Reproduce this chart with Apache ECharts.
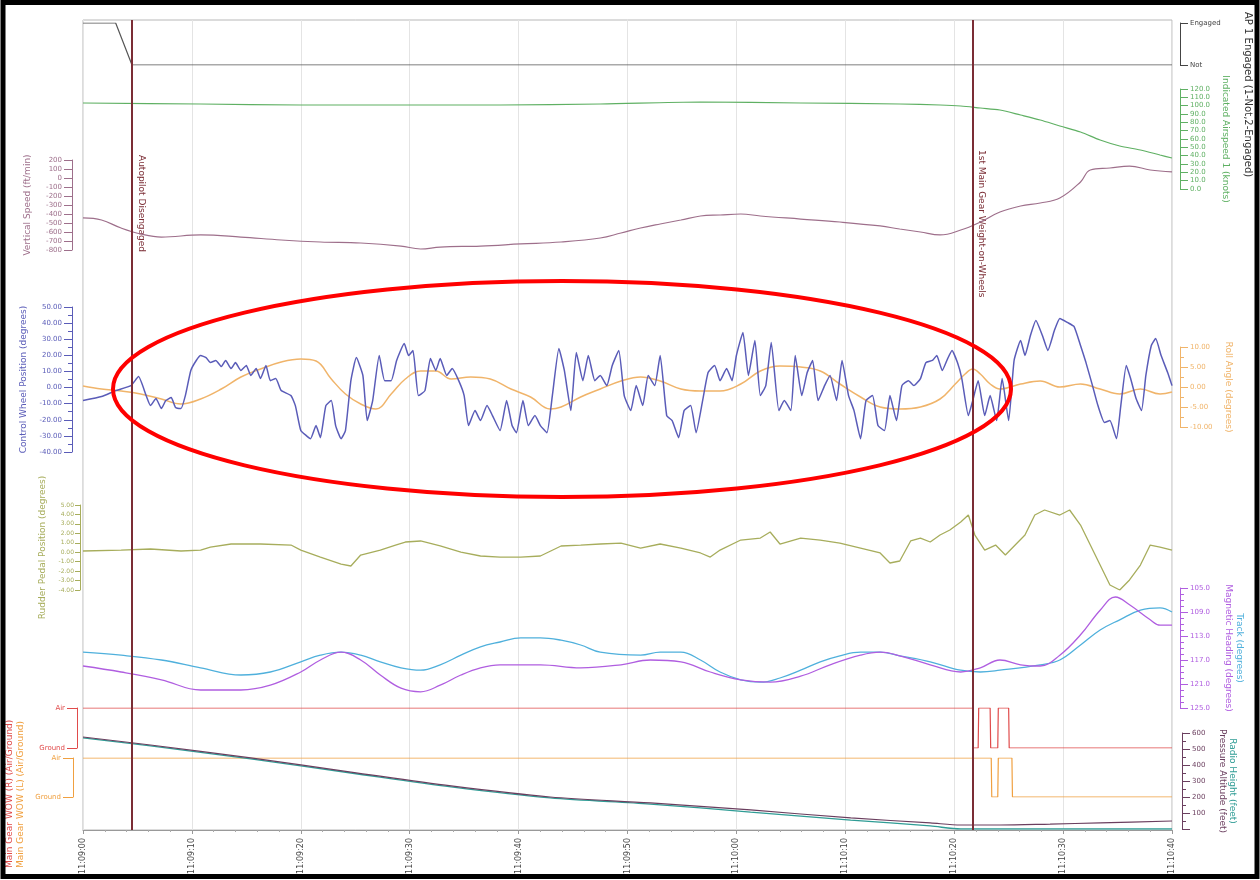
<!DOCTYPE html>
<html><head><meta charset="utf-8">
<script src="https://cdn.jsdelivr.net/npm/echarts@6/dist/echarts.min.js"></script>
<style>html,body{margin:0;padding:0;background:#fff}#c{width:1260px;height:880px}</style>
</head><body><div id="c"></div>
<script>
// ---- tick labels ----
const timeLabels = ['11:09:00','11:09:10','11:09:20','11:09:30','11:09:40','11:09:50','11:10:00','11:10:10','11:10:20','11:10:30','11:10:40'];
const headingTicks = [105, 109, 113, 117, 121, 125];
const headingMinorTicks = [106,107,108,110,111,112,114,115,116,118,119,120,122,123,124];
const markerTimes = [4.5, 81.7];
const markerNames = ['Autopilot Disengaged', '1st Main Gear Weight-on-Wheels'];

// ---- series values [time s, value] ----
const apEngaged = [[0,2],[3.0,2],[4.5,1],[100,1]];
const iasData = [[0,103.2],[10.8,102.0],[20.0,100.8],[29.2,100.8],[38.3,100.8],[47.5,102.0],[56.7,104.4],[65.9,103.2],[75.0,102.0],[78.7,100.8],[80.6,99.6],[82.4,97.2],[84.2,94.8],[86.1,88.8],[87.9,82.8],[89.7,75.6],[91.6,68.4],[93.4,58.8],[95.2,51.6],[97.1,46.8],[98.9,40.8],[100,37.2]];
const vsData = [[0,-444],[1.7,-467],[3.5,-556],[5.3,-622],[7.2,-656],[10.8,-633],[14.5,-656],[18.2,-689],[21.8,-711],[25.5,-722],[29.2,-756],[31.0,-789],[32.8,-767],[36.5,-756],[40.2,-733],[43.9,-711],[47.5,-667],[49.4,-611],[51.2,-556],[53.0,-511],[54.9,-467],[56.7,-422],[58.5,-411],[60.4,-400],[62.2,-422],[65.9,-456],[69.5,-489],[73.2,-533],[75.0,-567],[76.9,-600],[78.7,-633],[80.6,-578],[82.4,-489],[84.2,-378],[86.1,-311],[87.9,-278],[89.7,-222],[91.6,-44],[92.5,89],[94.3,111],[96.1,133],[98.0,89],[100,67]];
const cwpData = [[0,-8.1],[1.7,-5.6],[3.0,-1.9],[4.4,1.2],[5.1,6.8],[5.8,-5.0],[6.2,-11.2],[6.7,-6.8],[7.2,-13.0],[7.6,-8.1],[8.1,-6.2],[8.5,-12.4],[9.0,-13.0],[9.4,-5.0],[9.9,10.6],[10.4,16.8],[10.8,19.9],[11.3,18.6],[11.7,15.5],[12.2,16.8],[12.7,13.0],[13.1,16.8],[13.6,11.8],[14.0,15.5],[14.5,10.6],[15.0,13.7],[15.4,7.5],[15.9,11.8],[16.3,5.6],[16.8,13.7],[17.2,4.3],[17.7,5.6],[18.2,-1.9],[19.1,-5.0],[19.5,-11.2],[20.0,-26.7],[20.5,-29.8],[20.9,-31.7],[21.4,-23.6],[21.8,-31.1],[22.3,-11.2],[22.8,-8.1],[23.2,-23.6],[23.7,-31.7],[24.1,-26.7],[24.6,4.3],[25.1,18.6],[25.7,7.5],[26.1,-20.5],[26.6,-8.1],[27.2,19.9],[27.7,4.3],[28.3,4.3],[28.8,16.8],[29.5,27.3],[29.9,19.9],[30.3,23.0],[30.8,-5.0],[31.4,-1.9],[31.9,18.0],[32.4,10.6],[32.8,18.0],[33.4,7.5],[33.9,11.8],[34.5,4.3],[35.0,-5.0],[35.4,-23.6],[36.0,-14.3],[36.5,-20.5],[37.1,-11.2],[37.6,-17.4],[38.3,-26.7],[38.9,-8.1],[39.4,-23.6],[39.8,-28.0],[40.4,-8.1],[40.9,-23.6],[41.5,-17.4],[42.0,-23.6],[42.6,-28.0],[43.1,-5.0],[43.7,24.2],[44.2,10.6],[44.8,-14.3],[45.3,21.7],[45.9,4.3],[46.4,19.9],[47.0,4.3],[47.5,7.5],[48.1,1.2],[48.6,13.7],[49.2,23.0],[49.7,-5.0],[50.3,-14.3],[50.8,1.2],[51.4,-11.2],[51.9,7.5],[52.5,1.2],[53.0,19.9],[53.6,-17.4],[54.1,-20.5],[54.7,-31.1],[55.2,-14.3],[55.8,-11.2],[56.3,-28.0],[56.9,-8.1],[57.4,9.3],[58.0,13.7],[58.5,4.3],[59.1,11.8],[59.6,4.3],[60.0,19.9],[60.6,34.2],[61.1,7.5],[61.7,29.2],[62.2,-5.0],[62.7,1.2],[63.2,28.0],[63.9,-14.3],[64.4,-8.1],[65.0,-14.3],[65.4,19.9],[66.0,-5.0],[66.5,9.3],[67.0,16.8],[67.5,-8.1],[68.1,1.2],[68.6,7.5],[69.2,-8.1],[69.7,16.8],[70.3,-5.0],[70.8,-14.3],[71.4,-31.7],[71.9,-8.1],[72.5,-5.0],[73.0,-23.6],[73.6,-26.7],[74.1,-5.0],[74.7,-20.5],[75.2,1.2],[75.8,4.3],[76.3,1.2],[76.9,5.6],[77.4,15.5],[78.0,16.8],[78.4,19.9],[78.9,10.6],[79.4,18.0],[79.8,23.0],[80.3,15.5],[80.7,5.6],[81.3,-17.4],[81.7,-8.1],[82.2,4.3],[82.8,-17.4],[83.3,-5.0],[83.9,-20.5],[84.4,5.6],[85.0,-20.5],[85.5,16.8],[86.1,29.2],[86.5,19.9],[87.0,32.3],[87.5,41.6],[88.1,32.3],[88.6,23.0],[89.2,35.4],[89.7,42.9],[90.4,40.4],[91.0,37.9],[91.6,26.1],[92.1,15.5],[92.7,1.2],[93.2,-11.2],[93.8,-21.7],[94.3,-20.5],[94.9,-31.7],[95.3,-11.2],[95.8,13.7],[96.2,5.6],[96.7,-6.8],[97.2,-14.3],[97.6,7.5],[98.1,26.1],[98.5,30.4],[99.0,19.9],[99.6,9.3],[100,1.2]];
const rollData = [[0,0.25],[1.7,-0.5],[3.5,-1.0],[5.3,-1.75],[7.2,-3.0],[9.0,-4.25],[10.8,-3.0],[12.7,-0.5],[14.5,2.5],[16.3,4.5],[18.2,6.25],[20.0,7.0],[21.4,6.5],[22.8,2.0],[24.1,-1.75],[25.5,-4.25],[26.9,-5.5],[28.3,-1.75],[29.6,2.0],[31.0,4.0],[32.4,4.0],[33.8,2.0],[35.6,2.5],[37.4,2.0],[39.3,-0.5],[41.1,-2.5],[42.9,-5.5],[43.9,-5.0],[45.7,-2.5],[47.5,-0.5],[49.4,1.5],[51.2,2.5],[53.0,1.5],[54.9,-0.5],[56.7,-1.0],[58.5,-1.0],[60.4,0.75],[62.2,4.0],[64.0,5.25],[65.9,5.0],[67.7,4.0],[69.5,0.75],[71.4,-2.5],[73.2,-5.0],[75.0,-5.5],[76.9,-5.0],[78.7,-3.0],[80.1,0.75],[81.0,3.25],[81.7,4.5],[82.4,3.25],[83.3,0.75],[84.2,-0.5],[86.1,0.75],[87.9,1.5],[89.7,0],[91.6,0.75],[93.4,-0.5],[95.2,-1.75],[97.1,-0.5],[98.9,-1.75],[100,-1.25]];
const rudderData = [[0,0.13],[3.5,0.23],[6.2,0.34],[9.0,0.13],[10.8,0.23],[11.7,0.55],[13.6,0.87],[16.3,0.87],[19.1,0.76],[20.0,0.23],[21.8,-0.51],[23.7,-1.25],[24.6,-1.46],[25.5,-0.30],[27.3,0.23],[28.7,0.76],[29.6,1.08],[31.0,1.19],[32.8,0.66],[34.7,0.02],[36.5,-0.40],[38.3,-0.51],[40.2,-0.51],[42.0,-0.40],[43.9,0.66],[45.7,0.76],[47.5,0.87],[49.4,0.97],[51.2,0.44],[53.0,0.87],[54.9,0.44],[56.7,-0.08],[57.6,-0.51],[58.5,0.23],[60.4,1.29],[62.2,1.50],[63.1,2.14],[64.0,0.87],[65.9,1.50],[67.7,1.29],[69.5,0.97],[71.4,0.44],[73.2,-0.08],[74.1,-1.14],[75.0,-0.93],[76.0,1.19],[76.9,1.50],[77.8,1.08],[78.7,1.82],[79.6,2.35],[80.6,3.20],[81.3,3.94],[81.9,1.82],[82.8,0.23],[83.8,0.76],[84.7,-0.30],[85.6,0.76],[86.5,1.82],[87.4,3.94],[88.3,4.47],[89.7,3.94],[90.6,4.47],[91.6,2.88],[92.5,0.76],[93.4,-1.36],[94.3,-3.47],[95.2,-4.0],[96.1,-2.94],[97.1,-1.36],[98.0,0.76],[98.9,0.55],[100,0.23]];
const headingData = [[0,118.0],[3.5,119.0],[7.2,120.3],[10.8,122.0],[14.5,122.0],[17.2,121.2],[20.0,119.0],[21.8,117.0],[23.7,115.7],[25.5,117.0],[27.3,119.5],[29.2,121.7],[31.0,122.3],[32.8,121.2],[34.7,119.5],[36.5,118.3],[38.3,117.8],[42.0,117.8],[45.7,118.3],[49.4,117.8],[52.1,117.0],[54.9,117.3],[57.6,119.0],[60.4,120.3],[63.1,120.7],[65.9,119.7],[68.6,117.8],[71.4,116.2],[73.2,115.7],[75.0,116.3],[77.8,117.8],[80.6,119.0],[82.4,118.3],[84.2,117.0],[86.1,117.8],[87.9,118.0],[89.7,116.2],[91.6,112.8],[93.4,108.7],[94.8,106.5],[96.1,107.8],[98.0,110.3],[98.9,111.2],[100,111.2]];
const trackData = [[0,115.7],[3.5,116.2],[7.2,117.0],[10.8,118.3],[14.5,119.5],[17.2,119.0],[20.0,117.3],[21.8,116.2],[23.7,115.7],[25.5,116.2],[27.3,117.3],[29.2,118.3],[31.0,118.7],[32.8,117.8],[34.7,116.2],[36.5,114.8],[38.3,114.0],[40.2,113.3],[42.0,113.3],[43.9,113.7],[45.7,114.5],[47.5,115.7],[51.2,116.2],[53.0,115.7],[54.9,115.7],[56.7,117.0],[58.5,119.0],[60.4,120.3],[62.2,120.7],[64.0,120.0],[65.9,118.7],[67.7,117.3],[69.5,116.3],[71.4,115.7],[73.2,115.7],[75.0,116.3],[77.8,117.3],[80.6,118.7],[82.4,119.0],[84.2,118.7],[87.9,117.8],[89.7,117.0],[91.6,114.5],[93.4,112.0],[95.2,110.3],[97.1,108.7],[98.9,108.3],[100,109.0]];
const wowRight = [[0,1],[81.7,1],[81.75,0],[82.2,0],[82.25,1],[83.3,1],[83.35,0],[84.0,0],[84.05,1],[85.0,1],[85.05,0],[100,0]];
const wowLeft = [[0,1],[83.4,1],[83.45,0],[84.0,0],[84.05,1],[85.3,1],[85.35,0],[100,0]];
const pressAlt = [[0,575],[6.2,525],[15.4,444],[24.6,356],[33.8,269],[42.9,200],[52.1,163],[61.3,119],[70.5,69],[77.8,38],[80.6,25],[84.2,25],[88.8,31],[93.4,38],[100,50]];
const radioHeight = [[0,569],[6.2,519],[15.4,438],[24.6,350],[33.8,263],[42.9,194],[52.1,156],[61.3,106],[70.5,56],[77.8,19],[80.6,0],[84.2,0],[100,0]];

const FONT = 'DejaVu Sans';
const chart = echarts.init(document.getElementById('c'));

const L = 83, R = 88;
const panels = [
  {top:20, height:810},  // 0 base
  {top:23, height:42},   // 1 AP
  {top:89, height:100},  // 2 IAS
  {top:160, height:90},  // 3 VS
  {top:307, height:145}, // 4 CWP
  {top:347, height:80},  // 5 roll
  {top:505, height:85},  // 6 rudder
  {top:588, height:120}, // 7 heading/track
  {top:708, height:40},  // 8 WOW R
  {top:758, height:39},  // 9 WOW L
  {top:733, height:96}   // 10 alt
];
const grids = panels.map((p,i) => Object.assign({left:L, right:R, containLabel:false, outerBoundsMode:'none'}, p,
  i===0 ? {show:true, borderColor:'#b8b8b8', borderWidth:1} : {}));
const xAxes = panels.map((p,i) => i===0 ? {
  gridIndex:0, type:'value', min:0, max:100, interval:10,
  axisLine:{show:true, lineStyle:{color:'#999'}},
  axisTick:{show:true, length:4, lineStyle:{color:'#999'}},
  minorTick:{show:true, splitNumber:5, length:2, lineStyle:{color:'#aaa'}},
  splitLine:{show:true, lineStyle:{color:'#e4e4e4', width:1}},
  axisLabel:{rotate:90, fontSize:8, color:'#444', fontFamily:FONT, margin:8,
    formatter:v => { const k = Math.round(v/10); return Math.abs(v - k*10) < 1e-6 ? (timeLabels[k] || '') : ''; }},
  name:'UTC Time (hh:mm:ss)', nameLocation:'middle', nameGap:43,
  nameTextStyle:{fontSize:7, color:'#555', fontFamily:FONT}
} : {gridIndex:i, type:'value', min:0, max:100, show:false});

function yAx(o, color, side, extra) {
  const base = {
    type:'value', position:side, offset: side==='left' ? 11 : 8,
    axisLine:{show:true, onZero:false, lineStyle:{color:color, width:1}},
    axisTick:{show:true, length:8, lineStyle:{color:color}},
    minorTick:{show:true, splitNumber:2, length:4, lineStyle:{color:color}},
    splitLine:{show:false},
    axisLabel:{color:color, fontSize:7, margin:10, fontFamily:FONT},
    nameLocation:'middle', nameRotate: side==='left' ? 90 : -90,
    nameTextStyle:{color:color, fontSize:9, fontFamily:FONT}
  };
  const r = Object.assign(base, o);
  if (extra) Object.keys(extra).forEach(k => r[k] = Object.assign({}, r[k], extra[k]));
  return r;
}
function nameOnly(o, color, side) {
  return Object.assign({type:'value', position:side, offset:8,
    axisLine:{show:false, onZero:false}, axisTick:{show:false}, axisLabel:{show:false}, splitLine:{show:false},
    nameLocation:'middle', nameRotate: side==='left' ? 90 : -90,
    nameTextStyle:{color:color, fontSize:9, fontFamily:FONT}}, o);
}
const C = {ap:'#555555', ias:'#5fb063', vs:'#9e6f8b', cwp:'#5a5cb8', roll:'#f0b46a', rud:'#a7ad5c',
  hdg:'#b05ee0', trk:'#4fb0dc', wowR:'#e04b4b', wowL:'#f0a040', pa:'#6b3f5f', rh:'#2f9c95', mk:'#7b2d35'};

const yAxes = [
  {gridIndex:0, type:'value', min:0, max:1, show:false},
  yAx({gridIndex:1, min:1, max:2, interval:1,
       axisLabel:{color:'#444', fontSize:7, margin:10, fontFamily:FONT, formatter:v => v===2 ? 'Engaged' : (v===1 ? 'Not' : '')}}, C.ap, 'right',
       {minorTick:{show:false}, axisLine:{lineStyle:{color:'#444'}}, axisTick:{lineStyle:{color:'#444'}}}),
  yAx({gridIndex:2, min:0, max:120, interval:10, name:'Indicated Airspeed 1 (knots)', nameGap:40,
       axisLabel:{color:C.ias, fontSize:7, margin:10, fontFamily:FONT, formatter:v => v.toFixed(1)}}, C.ias, 'right', {minorTick:{show:false}}),
  yAx({gridIndex:3, min:-800, max:200, interval:100, name:'Vertical Speed (ft/min)', nameGap:40,
       axisLabel:{color:C.vs, fontSize:7, margin:10, fontFamily:FONT}}, C.vs, 'left', {minorTick:{show:false}}),
  yAx({gridIndex:4, min:-40, max:50, interval:10, name:'Control Wheel Position (degrees)', nameGap:40,
       axisLabel:{color:C.cwp, fontSize:7, margin:10, fontFamily:FONT, formatter:v => v.toFixed(2)}}, C.cwp, 'left'),
  yAx({gridIndex:5, min:-10, max:10, interval:5, name:'Roll Angle (degrees)', nameGap:44,
       axisLabel:{color:C.roll, fontSize:7, margin:10, fontFamily:FONT, formatter:v => v.toFixed(2)}}, C.roll, 'right'),
  yAx({gridIndex:6, min:-4, max:5, interval:1, offset:3, name:'Rudder Pedal Position (degrees)', nameGap:30,
       axisLabel:{color:C.rud, fontSize:6, margin:6, fontFamily:FONT, formatter:v => v.toFixed(2)}}, C.rud, 'left', {axisTick:{length:5}, minorTick:{show:false}}),
  yAx({gridIndex:7, min:105, max:125, inverse:true, name:'Magnetic Heading (degrees)', nameGap:44,
       axisTick:{show:true, length:8, customValues:headingTicks, lineStyle:{color:C.hdg}},
       minorTick:{show:false},
       axisLabel:{color:C.hdg, fontSize:7, margin:10, fontFamily:FONT, customValues:headingTicks, formatter:v => v.toFixed(1)}}, C.hdg, 'right'),
  nameOnly({gridIndex:7, min:105, max:125, inverse:true, name:'Track (degrees)', nameGap:55}, C.trk, 'right'),
  yAx({gridIndex:8, min:0, max:1, interval:1, offset:6, name:'',
       axisLabel:{color:C.wowR, fontSize:7, margin:12, fontFamily:FONT, formatter:v => v===1 ? 'Air' : 'Ground'}}, C.wowR, 'left', {minorTick:{show:false}, axisTick:{length:10}}),
  yAx({gridIndex:9, min:0, max:1, interval:1, offset:10, name:'',
       axisLabel:{color:C.wowL, fontSize:7, margin:12, fontFamily:FONT, formatter:v => v===1 ? 'Air' : 'Ground'}}, C.wowL, 'left', {minorTick:{show:false}, axisTick:{length:10}}),
  yAx({gridIndex:10, min:0, max:600, interval:100, offset:10, name:'Pressure Altitude (feet)', nameGap:36,
       axisLabel:{color:C.pa, fontSize:7, margin:10, fontFamily:FONT, showMinLabel:false}}, C.pa, 'right', {}),
  nameOnly({gridIndex:10, min:0, max:600, name:'Radio Height (feet)', nameGap:48}, C.rh, 'right'),
  // heading minor ticks (no labels)
  {gridIndex:7, type:'value', position:'right', offset:8, min:105, max:125, inverse:true,
   axisLine:{show:false, onZero:false}, splitLine:{show:false}, axisLabel:{show:false},
   axisTick:{show:true, length:4, customValues:headingMinorTicks, lineStyle:{color:C.hdg}}}
];

function line(name, data, xi, yi, color, w, smooth) {
  return {name, type:'line', data, xAxisIndex:xi, yAxisIndex:yi, symbol:'none', smooth:smooth||false,
    lineStyle:{color, width:w}, itemStyle:{color}, animation:false};
}
const series = [
  {type:'line', xAxisIndex:0, yAxisIndex:0, data:[], symbol:'none', animation:false,
   markLine:{symbol:'none', silent:true, animation:false, label:{show:false},
     lineStyle:{color:C.mk, width:2, type:'solid'}, data: markerTimes.map(t => ({xAxis:t}))}},
  line('AP 1 Engaged', apEngaged, 1, 1, '#555', 1.2),
  line('Indicated Airspeed 1', iasData, 2, 2, C.ias, 1.2, 0.3),
  line('Vertical Speed', vsData, 3, 3, C.vs, 1.2, 0.4),
  line('Roll Angle', rollData, 5, 5, C.roll, 1.5, 0.4),
  line('Control Wheel Position', cwpData, 4, 4, C.cwp, 1.5, 0.15),
  line('Rudder Pedal Position', rudderData, 6, 6, C.rud, 1.3),
  line('Track', trackData, 7, 8, C.trk, 1.3, 0.4),
  line('Magnetic Heading', headingData, 7, 7, C.hdg, 1.3, 0.4),
  line('Main Gear WOW R', wowRight, 8, 9, C.wowR, 1.2),
  line('Main Gear WOW L', wowLeft, 9, 10, C.wowL, 1.2),
  line('Radio Height', radioHeight, 10, 12, C.rh, 1.3, 0.3),
  line('Pressure Altitude', pressAlt, 10, 11, C.pa, 1.2, 0.3)
];

chart.setOption({
  backgroundColor:'#ffffff',
  animation:false,
  grid:grids, xAxis:xAxes, yAxis:yAxes, series:series,
  graphic:[
    {id:'apName', type:'text', x:1248, y:12, rotation:-Math.PI/2,
     style:{text:'AP 1 Engaged (1-Not,2-Engaged)', fill:'#333', font:'10px "DejaVu Sans"', align:'left', verticalAlign:'middle'}},
    {id:'wowRname', type:'text', x:10, y:868, rotation:Math.PI/2,
     style:{text:'Main Gear WOW (R) (Air/Ground)', fill:C.wowR, font:'9px "DejaVu Sans"', align:'left', verticalAlign:'middle'}},
    {id:'wowLname', type:'text', x:21, y:868, rotation:Math.PI/2,
     style:{text:'Main Gear WOW (L) (Air/Ground)', fill:C.wowL, font:'9px "DejaVu Sans"', align:'left', verticalAlign:'middle'}},
    {id:'ellipse', type:'ellipse', z:100, shape:{cx:562, cy:389, rx:449, ry:108},
     style:{fill:'none', stroke:'#ff0000', lineWidth:4}},
    {id:'frame', type:'rect', z:101, shape:{x:3, y:2.5, width:1254, height:874},
     style:{fill:'none', stroke:'#000000', lineWidth:5}}
  ]
});

const mkGraphics = markerTimes.map((t,i) => {
  const px = chart.convertToPixel({xAxisIndex:0}, t);
  return {id:'mk'+i, type:'text', x:px+9, y: i===0 ? 155 : 150, rotation:-Math.PI/2,
    style:{text:markerNames[i], fill:C.mk, font:'9px "DejaVu Sans"', align:'left', verticalAlign:'middle'}};
});
chart.setOption({graphic: mkGraphics});
</script>
</body></html>
